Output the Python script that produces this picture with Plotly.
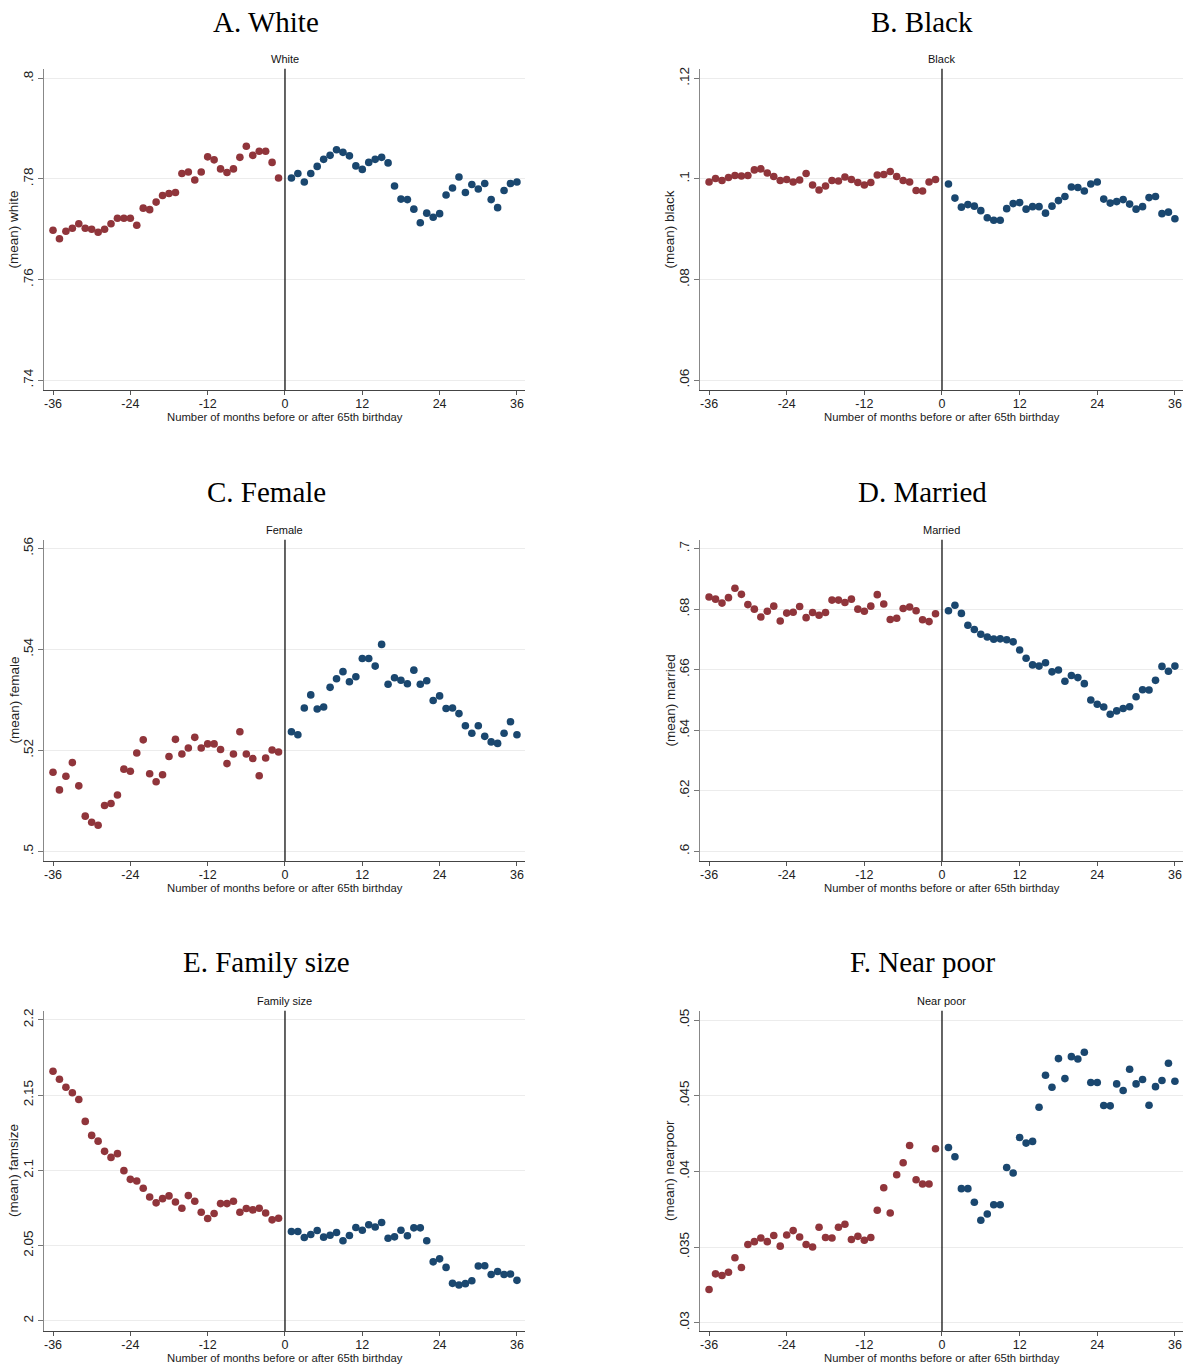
import plotly.graph_objects as go

W, H = 1192, 1370

months_pre = list(range(-36, 0))
months_post = list(range(1, 37))

white_pre = [0.7698, 0.7681, 0.7696, 0.7702, 0.7711, 0.7702, 0.7700, 0.7694, 0.7700, 0.7711,
             0.7722, 0.7722, 0.7722, 0.7708, 0.7742, 0.7739, 0.7754, 0.7767, 0.7771, 0.7773,
             0.7811, 0.7814, 0.7798, 0.7814, 0.7844, 0.7838, 0.7820, 0.7813, 0.7820, 0.7843,
             0.7865, 0.7847, 0.7855, 0.7855, 0.7833, 0.7802]
white_post = [0.7802, 0.7811, 0.7794, 0.7811, 0.7825, 0.7839, 0.7847, 0.7858, 0.7853, 0.7846,
              0.7826, 0.7819, 0.7833, 0.7839, 0.7843, 0.7832, 0.7786, 0.7760, 0.7759, 0.7740,
              0.7713, 0.7732, 0.7724, 0.7731, 0.7768, 0.7782, 0.7804, 0.7773, 0.7789, 0.7780,
              0.7791, 0.7759, 0.7743, 0.7777, 0.7791, 0.7794]

black_pre = [0.0994, 0.1001, 0.0997, 0.1003, 0.1007, 0.1006, 0.1007, 0.1018, 0.1020, 0.1012,
             0.1005, 0.0997, 0.0999, 0.0994, 0.0998, 0.1011, 0.0988, 0.0978, 0.0986, 0.0997,
             0.0996, 0.1004, 0.0999, 0.0993, 0.0988, 0.0993, 0.1008, 0.1009, 0.1015, 0.1005,
             0.0997, 0.0994, 0.0977, 0.0976, 0.0994, 0.0999]
black_post = [0.0990, 0.0962, 0.0944, 0.0949, 0.0946, 0.0937, 0.0923, 0.0918, 0.0918, 0.0941,
              0.0951, 0.0953, 0.0940, 0.0945, 0.0945, 0.0932, 0.0946, 0.0957, 0.0965, 0.0984,
              0.0983, 0.0976, 0.0990, 0.0994, 0.0960, 0.0952, 0.0955, 0.0959, 0.0950, 0.0940,
              0.0945, 0.0963, 0.0965, 0.0931, 0.0934, 0.0921]

female_pre = [0.5157, 0.5122, 0.5149, 0.5176, 0.5130, 0.5070, 0.5058, 0.5052, 0.5091, 0.5095,
              0.5112, 0.5163, 0.5159, 0.5195, 0.5221, 0.5154, 0.5138, 0.5152, 0.5188, 0.5222,
              0.5193, 0.5205, 0.5226, 0.5205, 0.5213, 0.5213, 0.5202, 0.5174, 0.5193, 0.5237,
              0.5193, 0.5184, 0.5150, 0.5185, 0.5201, 0.5197]
female_post = [0.5237, 0.5231, 0.5284, 0.5310, 0.5282, 0.5286, 0.5325, 0.5342, 0.5356, 0.5336,
               0.5346, 0.5382, 0.5382, 0.5367, 0.5410, 0.5331, 0.5344, 0.5339, 0.5332, 0.5359,
               0.5331, 0.5338, 0.5299, 0.5308, 0.5283, 0.5284, 0.5273, 0.5249, 0.5234, 0.5249,
               0.5228, 0.5217, 0.5214, 0.5234, 0.5257, 0.5231]

married_pre = [0.6840, 0.6833, 0.6820, 0.6838, 0.6869, 0.6849, 0.6815, 0.6800, 0.6774, 0.6793,
               0.6810, 0.6761, 0.6787, 0.6790, 0.6809, 0.6772, 0.6789, 0.6780, 0.6789, 0.6830,
               0.6830, 0.6822, 0.6833, 0.6800, 0.6793, 0.6810, 0.6848, 0.6817, 0.6766, 0.6770,
               0.6802, 0.6807, 0.6795, 0.6765, 0.6759, 0.6785]
married_post = [0.6795, 0.6813, 0.6786, 0.6747, 0.6733, 0.6717, 0.6708, 0.6701, 0.6702, 0.6699,
                0.6692, 0.6665, 0.6638, 0.6616, 0.6612, 0.6623, 0.6593, 0.6599, 0.6562, 0.6581,
                0.6574, 0.6554, 0.6500, 0.6486, 0.6477, 0.6453, 0.6464, 0.6472, 0.6478, 0.6511,
                0.6534, 0.6533, 0.6565, 0.6611, 0.6595, 0.6612]

famsize_pre = [2.1658, 2.1605, 2.1552, 2.1515, 2.1471, 2.1325, 2.1232, 2.1194, 2.1126, 2.1086,
               2.1111, 2.0998, 2.0940, 2.0929, 2.0881, 2.0823, 2.0784, 2.0812, 2.0830, 2.0790,
               2.0748, 2.0832, 2.0795, 2.0722, 2.0680, 2.0713, 2.0779, 2.0779, 2.0795, 2.0722,
               2.0746, 2.0737, 2.0748, 2.0717, 2.0671, 2.0682]
famsize_post = [2.0594, 2.0594, 2.0554, 2.0574, 2.0600, 2.0556, 2.0569, 2.0587, 2.0532, 2.0567,
                2.0620, 2.0602, 2.0638, 2.0624, 2.0653, 2.0549, 2.0558, 2.0602, 2.0565, 2.0618,
                2.0618, 2.0532, 2.0392, 2.0412, 2.0355, 2.0249, 2.0238, 2.0247, 2.0266, 2.0364,
                2.0366, 2.0308, 2.0328, 2.0308, 2.0311, 2.0269]

nearpoor_pre = [0.03220, 0.03323, 0.03312, 0.03334, 0.03429, 0.03365, 0.03517, 0.03536, 0.03560, 0.03536,
                0.03576, 0.03506, 0.03580, 0.03609, 0.03567, 0.03517, 0.03501, 0.03631, 0.03563, 0.03560,
                0.03631, 0.03651, 0.03550, 0.03571, 0.03545, 0.03563, 0.03743, 0.03892, 0.03725, 0.03978,
                0.04057, 0.04171, 0.03945, 0.03917, 0.03917, 0.04150]
nearpoor_post = [0.04158, 0.04097, 0.03886, 0.03886, 0.03796, 0.03677, 0.03719, 0.03780, 0.03780, 0.04026,
                 0.03989, 0.04224, 0.04187, 0.04198, 0.04424, 0.04635, 0.04556, 0.04745, 0.04613, 0.04758,
                 0.04743, 0.04787, 0.04587, 0.04587, 0.04435, 0.04433, 0.04578, 0.04534, 0.04675, 0.04578,
                 0.04607, 0.04437, 0.04560, 0.04600, 0.04714, 0.04596]

x_ticks = [-36, -24, -12, 0, 12, 24, 36]
x_ticktext = ["-36", "-24", "-12", "0", "12", "24", "36"]

panel_titles = ["A. White", "B. Black", "C. Female", "D. Married", "E. Family size", "F. Near poor"]
panel_subtitles = ["White", "Black", "Female", "Married", "Family size", "Near poor"]
y_titles = ["(mean) white", "(mean) black", "(mean) female", "(mean) married", "(mean) famsize", "(mean) nearpoor"]
y_tickvals = [
    [0.74, 0.76, 0.78, 0.80],
    [0.06, 0.08, 0.10, 0.12],
    [0.50, 0.52, 0.54, 0.56],
    [0.60, 0.62, 0.64, 0.66, 0.68, 0.70],
    [2.00, 2.05, 2.10, 2.15, 2.20],
    [0.030, 0.035, 0.040, 0.045, 0.050],
]
y_ticktext = [
    [".74", ".76", ".78", ".8"],
    [".06", ".08", ".1", ".12"],
    [".5", ".52", ".54", ".56"],
    [".6", ".62", ".64", ".66", ".68", ".7"],
    ["2", "2.05", "2.1", "2.15", "2.2"],
    [".03", ".035", ".04", ".045", ".05"],
]
series_pre = [white_pre, black_pre, female_pre, married_pre, famsize_pre, nearpoor_pre]
series_post = [white_post, black_post, female_post, married_post, famsize_post, nearpoor_post]

# layout (pixels)
y_ranges = [
    [0.7380, 0.8019],
    [0.0580, 0.1219],
    [0.4981, 0.5617],
    [0.5968, 0.7029],
    [1.9932, 2.2060],
    [0.02945, 0.05061],
]
x_range = [-37.4, 37.25]
col_x = [(44, 525), (700, 1183)]
row_y = [(66, 388), (538, 860), (1010, 1331)]
title_y = [19, 490, 961]
title_cx = [266, 922]
ytitle_x = [14, 670]

RED = "#90353B"
BLUE = "#1A476F"

def px(xp):
    return xp / W

def py(yp):
    return 1 - yp / H

fig = go.Figure()
annotations = []
shapes = []
layout_axes = {}

for i in range(6):
    r, c = divmod(i, 2)
    n = i + 1
    xa = "x" if n == 1 else f"x{n}"
    ya = "y" if n == 1 else f"y{n}"
    xkey = "xaxis" if n == 1 else f"xaxis{n}"
    ykey = "yaxis" if n == 1 else f"yaxis{n}"
    x0, x1 = col_x[c]
    yt, yb = row_y[r]

    fig.add_trace(go.Scatter(x=months_pre, y=series_pre[i], mode="markers",
                             marker=dict(color=RED, size=7.6, line=dict(width=0)),
                             xaxis=xa, yaxis=ya, showlegend=False, hoverinfo="x+y"))
    fig.add_trace(go.Scatter(x=months_post, y=series_post[i], mode="markers",
                             marker=dict(color=BLUE, size=7.6, line=dict(width=0)),
                             xaxis=xa, yaxis=ya, showlegend=False, hoverinfo="x+y"))

    layout_axes[xkey] = dict(
        domain=[px(x0), px(x1)], anchor=ya, range=x_range,
        tickvals=x_ticks, ticktext=x_ticktext, ticks="outside", ticklen=4,
        ticklabelstandoff=-2,
        tickcolor="#555555", showline=True, linecolor="#444444", linewidth=1,
        showgrid=False, zeroline=False,
        tickfont=dict(family="Liberation Sans, Arial", size=12.5, color="#222222"),
    )
    layout_axes[ykey] = dict(
        domain=[py(yb), py(yt)], anchor=xa, range=y_ranges[i],
        tickvals=y_tickvals[i], ticktext=y_ticktext[i], ticks="outside", ticklen=5,
        tickcolor="#777777", showline=True, linecolor="#888888", linewidth=1,
        showgrid=True, gridcolor="#ececec", gridwidth=1, zeroline=False, tickangle=-90,
        tickfont=dict(family="Liberation Sans, Arial", size=13.5, color="#222222"),
    )

    # vertical reference line at 0
    shapes.append(dict(type="line", xref=xa, x0=0, x1=0, yref=f"{ya} domain", y0=0, y1=1,
                       line=dict(color="#111111", width=1.3)))

    # panel title
    annotations.append(dict(text=panel_titles[i], xref="paper", yref="paper",
                            x=px(title_cx[c]), y=py(title_y[r]), xanchor="center", yanchor="middle",
                            showarrow=False, font=dict(family="Liberation Serif, Times New Roman", size=29, color="#000000")))
    # subtitle above plot
    annotations.append(dict(text=panel_subtitles[i], xref=xa, yref="paper",
                            x=0, y=py(yt - 10), xanchor="center", yanchor="middle",
                            showarrow=False, font=dict(family="Liberation Sans, Arial", size=11, color="#111111")))
    # x title
    annotations.append(dict(text="Number of months before or after 65th birthday",
                            xref=f"{xa} domain", yref="paper", x=0.5, y=py(yb + 26.5),
                            xanchor="center", yanchor="middle", showarrow=False,
                            font=dict(family="Liberation Sans, Arial", size=11.3, color="#222222")))
    # y title
    annotations.append(dict(text=y_titles[i], xref="paper", yref=f"{ya} domain",
                            x=px(ytitle_x[c]), y=0.5, xanchor="center", yanchor="middle",
                            textangle=-90, showarrow=False,
                            font=dict(family="Liberation Sans, Arial", size=13.5, color="#222222")))

fig.update_layout(
    width=W, height=H, margin=dict(l=0, r=0, t=0, b=0),
    paper_bgcolor="white", plot_bgcolor="white",
    annotations=annotations, shapes=shapes, showlegend=False,
    **layout_axes,
)

fig.write_html("out.html")
